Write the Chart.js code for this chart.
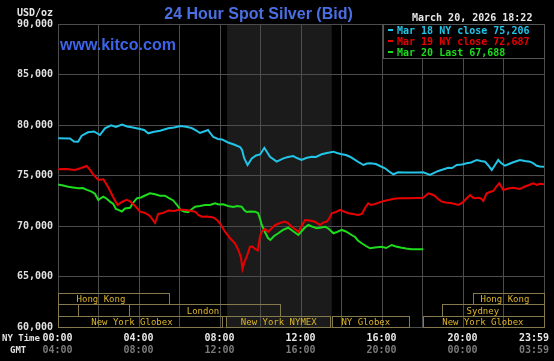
<!DOCTYPE html>
<html><head><meta charset="utf-8">
<script src="https://cdn.jsdelivr.net/npm/chart.js@4.4.1/dist/chart.umd.min.js"></script>
<style>html,body{margin:0;padding:0;background:#000;overflow:hidden}#wrap{width:554px;height:361px}</style>
</head><body><div id="wrap"><canvas id="c" width="554" height="361"></canvas></div>
<script>
// ---- data ----
const seriesLabels = ['Mar 18 NY close 75,206', 'Mar 19 NY close 72,687', 'Mar 20 Last 67,688'];

const mar18Hours = [0.01,0.59,0.79,0.99,1.17,1.48,1.78,2.07,2.32,2.62,2.86,3.16,3.41,3.70,4.05,4.25,4.46,4.69,5.04,5.45,5.73,6.05,6.32,6.60,6.81,7.01,7.21,7.41,7.51,7.67,7.90,8.10,8.40,8.69,8.99,9.09,9.19,9.36,9.57,9.78,9.98,10.19,10.32,10.47,10.80,11.13,11.36,11.62,11.80,12.03,12.25,12.53,12.74,13.02,13.28,13.60,13.78,14.01,14.22,14.42,14.67,14.91,15.08,15.26,15.41,15.70,15.90,16.15,16.35,16.56,16.80,17.14,17.48,17.78,18.04,18.37,18.57,18.78,19.01,19.27,19.46,19.69,19.95,20.18,20.40,20.68,20.89,21.09,21.23,21.42,21.58,21.74,21.88,22.07,22.27,22.48,22.67,22.81,23.06,23.31,23.48,23.64,23.80,24.00];
const mar18Values = [78680,78670,78370,78350,78940,79280,79360,79010,79670,79970,79800,80050,79850,79750,79610,79510,79180,79310,79430,79670,79750,79900,79820,79700,79460,79210,79360,79510,79210,78810,78620,78570,78270,78070,77820,77530,76730,76040,76680,76980,77080,77740,77330,76860,76370,76700,76830,76930,76730,76540,76730,76860,76830,77100,77230,77360,77230,77100,77030,76860,76540,76240,76040,76190,76210,76140,75940,75710,75400,75120,75320,75290,75290,75300,75320,75050,75250,75450,75600,75770,75740,76040,76090,76210,76290,76540,76440,76370,76040,75550,76040,76540,76240,75970,76140,76310,76440,76540,76440,76370,76190,75970,75890,75870];

const mar19Hours = [0.01,0.40,0.84,1.14,1.42,1.58,1.74,1.99,2.24,2.48,2.72,2.94,3.16,3.39,3.56,3.72,3.90,4.05,4.30,4.54,4.79,4.95,5.19,5.45,5.73,6.02,6.32,6.52,6.77,6.93,7.10,7.36,7.67,7.85,8.00,8.25,8.49,8.74,8.94,9.04,9.11,9.21,9.32,9.48,9.60,9.73,9.86,9.98,10.07,10.22,10.39,10.52,10.72,10.96,11.21,11.36,11.54,11.70,11.87,12.00,12.20,12.44,12.69,12.94,13.11,13.27,13.38,13.52,13.73,13.93,14.12,14.34,14.57,14.81,15.01,15.16,15.32,15.46,15.65,15.99,16.20,16.48,16.69,16.89,17.28,17.68,18.04,18.29,18.47,18.62,18.77,18.95,19.16,19.44,19.60,19.77,19.95,20.15,20.35,20.49,20.59,20.79,20.89,21.00,21.17,21.33,21.50,21.63,21.79,21.90,21.99,22.22,22.48,22.67,22.81,23.06,23.26,23.47,23.65,23.80,24.00];
const mar19Values = [75630,75650,75550,75740,75940,75550,75100,74560,74630,73830,72870,72080,72380,72580,72430,72150,71780,71420,71290,70990,70300,71210,71290,71540,71490,71640,71590,71520,71420,71090,70920,70940,70840,70600,70250,69440,68810,68290,67460,66830,65750,66440,66960,67950,67970,67730,67580,69010,69440,69710,69410,69710,70100,70300,70430,70300,69930,69710,69410,69900,70600,70550,70430,70100,70350,70430,70700,71260,71390,71590,71440,71260,71190,71090,71190,71780,72250,72080,72180,72410,72530,72650,72720,72740,72740,72770,72800,73240,73120,72970,72680,72410,72330,72250,72180,72080,72280,72680,73070,72820,72740,72800,72720,72480,73240,73370,73470,73860,74230,73860,73570,73720,73790,73720,73670,73910,74060,74230,74060,74180,74130];

const mar20Hours = [0.01,0.25,0.51,0.74,1.00,1.23,1.43,1.66,1.83,1.99,2.12,2.24,2.42,2.57,2.73,2.86,2.98,3.15,3.31,3.56,3.70,3.89,4.10,4.30,4.54,4.79,5.04,5.28,5.48,5.69,5.88,6.05,6.22,6.43,6.62,6.77,7.01,7.26,7.51,7.75,7.95,8.16,8.40,8.66,8.84,9.07,9.19,9.32,9.48,9.73,9.88,9.98,10.06,10.22,10.37,10.49,10.67,10.88,11.11,11.37,11.60,11.87,12.00,12.17,12.36,12.54,12.78,12.99,13.19,13.38,13.60,13.78,14.01,14.22,14.50,14.67,14.81,15.00,15.21,15.41,15.65,15.99,16.20,16.48,16.69,16.97,17.19,17.47,17.73,18.04];
const mar20Values = [74100,74010,73890,73810,73730,73760,73570,73400,73170,72580,72770,72900,72680,72410,72180,71690,71590,71440,71740,71810,72280,72740,72820,73020,73240,73140,73000,73000,72770,72530,72080,71590,71440,71360,71690,71910,71980,72080,72080,72250,72130,72150,71980,71880,71980,71910,71590,71390,71440,71420,71290,70700,70100,69410,68810,68620,69010,69280,69610,69830,69510,69110,69410,69800,70100,69950,69770,69850,69930,69710,69280,69410,69610,69460,69110,68910,68570,68290,68020,67790,67870,67950,67820,68120,67970,67850,67770,67700,67700,67690];

const yTickValues = [60000,65000,70000,75000,80000,85000,90000];
const tickHours = [0,4,8,12,16,20,24];
const nyTimeLabels = ['00:00','04:00','08:00','12:00','16:00','20:00','23:59'];
const gmtLabels = ['04:00','08:00','12:00','16:00','20:00','00:00','03:59'];

// NYMEX trading window (shaded), hours NY time
const shadeStart = 8.35, shadeEnd = 13.52;

// market session boxes (hours NY time), row 0 = bottom
const sessionNames  = ['Hong Kong','Hong Kong','','','London','Sydney','New York Globex','New York NYMEX','NY Globex','New York Globex'];
const sessionRows   = [2,2,1,1,1,1,0,0,0,0];
const sessionStarts = [0,20.49,0,0.99,3.51,18.96,0,8.30,13.53,18.02];
const sessionEnds   = [5.48,24,0.99,3.51,10.96,24,8.10,13.43,17.33,24];
const sessionTextAt = [2.12,22.07,0,0,7.16,20.98,3.65,10.9,15.2,20.98];

const headerTitle = '24 Hour Spot Silver (Bid)';
const headerSite = 'www.kitco.com';
const headerDate = 'March 20, 2026 18:22';
const unitLabel = 'USD/oz';

// ---- chart ----
const colors = ['#22c4e8', '#e80000', '#1cdc1c'];
const gridColor = '#4d4d4d';
const mono = '"DejaVu Sans Mono", monospace';

function pts(h, v) { return h.map((x, i) => ({x: x, y: v[i]})); }

const decor = {
  id: 'decor',
  beforeDraw(chart) {
    const {ctx, chartArea: a} = chart;
    const x = chart.scales.x;
    ctx.save();
    ctx.fillStyle = '#000';
    ctx.fillRect(0, 0, chart.width, chart.height);
    const s0 = x.getPixelForValue(shadeStart), s1 = x.getPixelForValue(shadeEnd);
    ctx.fillStyle = '#1b1b1b';
    ctx.fillRect(s0, a.top, s1 - s0, a.bottom - a.top);
    ctx.restore();
  },
  afterDraw(chart) {
    const {ctx, chartArea: a} = chart;
    const x = chart.scales.x;
    ctx.save();
    // session boxes
    const rowH = 34 / 3;
    ctx.lineWidth = 1;
    ctx.font = '9px ' + mono;
    ctx.textAlign = 'center';
    ctx.textBaseline = 'alphabetic';
    for (let i = 0; i < sessionNames.length; i++) {
      const x0 = Math.round(x.getPixelForValue(sessionStarts[i]));
      const x1 = Math.round(x.getPixelForValue(sessionEnds[i]));
      const top = Math.round(a.bottom - (sessionRows[i] + 1) * rowH);
      const bot = Math.round(a.bottom - sessionRows[i] * rowH);
      ctx.strokeStyle = '#857a4e';
      ctx.strokeRect(x0 + 0.5, top + 0.5, x1 - x0, bot - top);
      if (sessionNames[i]) {
        ctx.fillStyle = '#dcb42a';
        ctx.fillText(sessionNames[i], x.getPixelForValue(sessionTextAt[i]), bot - 2);
      }
    }
    // legend box
    const lx = 383, ly = a.top, lw = a.right - 383, lh = 34;
    ctx.fillStyle = '#000';
    ctx.fillRect(lx, ly, lw, lh);
    ctx.strokeStyle = '#555';
    ctx.strokeRect(lx + 0.5, ly + 0.5, lw, lh);
    ctx.font = 'bold 10px ' + mono;
    ctx.textAlign = 'left';
    chart.data.datasets.forEach((ds, i) => {
      const cy = ly + 6 + i * 11;
      ctx.fillStyle = ds.borderColor;
      ctx.fillRect(388, cy - 1, 5, 2);
      ctx.fillText(ds.label, 397, cy + 3.5);
    });
    // headers
    ctx.font = 'bold 16px "Liberation Sans", Arial, sans-serif';
    ctx.fillStyle = '#4a6fe3';
    ctx.textAlign = 'center';
    ctx.fillText(headerTitle, 258.5, 19);
    ctx.fillStyle = '#3d64e8';
    ctx.textAlign = 'left';
    ctx.fillText(headerSite, 60, 49.5);
    ctx.font = 'bold 10px ' + mono;
    ctx.fillStyle = '#e6e6e6';
    ctx.textAlign = 'right';
    ctx.fillText(unitLabel, 53, 16);
    ctx.textAlign = 'left';
    ctx.fillText(headerDate, 412, 21);
    // bottom time labels
    for (let i = 0; i < tickHours.length; i++) {
      const px = x.getPixelForValue(tickHours[i]);
      const last = i === tickHours.length - 1;
      ctx.textAlign = last ? 'right' : 'center';
      const tx = last ? px + 5 : px - 0.5;
      ctx.fillStyle = '#e8e8e8';
      ctx.fillText(nyTimeLabels[i], tx, 340.5);
      ctx.fillStyle = '#7a7a7a';
      ctx.fillText(gmtLabels[i], tx, 352.5);
    }
    ctx.font = 'bold 9px ' + mono;
    ctx.fillStyle = '#e0e0e0';
    ctx.textAlign = 'left';
    ctx.fillText('NY Time', 2, 340.5);
    ctx.fillText('GMT', 10, 352.5);
    ctx.restore();
  }
};

new Chart(document.getElementById('c'), {
  type: 'line',
  data: {
    datasets: [
      {label: seriesLabels[0], data: pts(mar18Hours, mar18Values), borderColor: colors[0]},
      {label: seriesLabels[1], data: pts(mar19Hours, mar19Values), borderColor: colors[1]},
      {label: seriesLabels[2], data: pts(mar20Hours, mar20Values), borderColor: colors[2]}
    ].map(d => Object.assign(d, {borderWidth: 2, pointRadius: 0, tension: 0, fill: false}))
  },
  options: {
    responsive: false,
    animation: false,
    devicePixelRatio: 1,
    layout: {padding: {top: 24, right: 10, bottom: 34, left: 0}},
    plugins: {legend: {display: false}, tooltip: {enabled: false}},
    scales: {
      x: {
        type: 'linear', min: 0, max: 24,
        ticks: {display: false, stepSize: 2},
        grid: {color: gridColor, drawTicks: false},
        border: {color: gridColor},
        afterFit: s => { s.height = 0; }
      },
      y: {
        min: 60000, max: 90000,
        afterBuildTicks: s => { s.ticks = yTickValues.map(v => ({value: v})); },
        ticks: {
          color: '#e0e0e0', padding: 5,
          font: {family: 'DejaVu Sans Mono', size: 10, weight: 'bold'},
          callback: v => v.toLocaleString('en-US')
        },
        grid: {color: gridColor, drawTicks: false},
        border: {color: gridColor},
        afterFit: s => { s.width = 58; }
      }
    }
  },
  plugins: [decor]
});
</script>
</body></html>
